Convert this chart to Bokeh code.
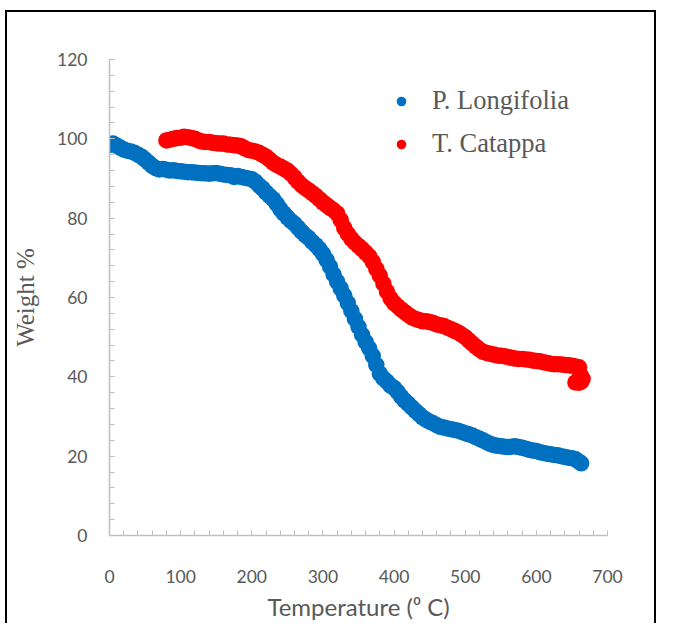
from bokeh.plotting import figure
from bokeh.models import Range1d, SingleIntervalTicker, Legend, LegendItem
from bokeh.embed import file_html
from bokeh.resources import INLINE

# ---- data ----
blue_t = [2, 5, 10, 15, 20, 25, 30, 35, 40, 45, 50, 55, 60, 65, 70, 75, 80, 85, 90, 95,
          100, 105, 110, 115, 120, 125, 130, 135, 140, 145, 150, 155, 160, 165, 170, 175, 180, 185, 190, 195,
          200, 205, 210, 215, 220, 225, 230, 235, 240, 245, 250, 255, 260, 265, 270, 275, 280, 285, 290, 295,
          300, 305, 310, 315, 320, 325, 330, 335, 340, 345, 350, 355, 360, 365, 370, 375, 380, 385, 390, 395,
          400, 405, 410, 415, 420, 425, 430, 435, 440, 445, 450, 455, 460, 465, 470, 475, 480, 485, 490, 495,
          500, 505, 510, 515, 520, 525, 530, 535, 540, 545, 550, 555, 560, 565, 570, 575, 580, 585, 590, 595,
          600, 605, 610, 615, 620, 625, 630, 635, 640, 645, 650, 655, 660, 663]
blue_w = [98.5, 98.8, 98.3, 97.8, 97.3, 97.0, 96.8, 96.5, 96.0, 95.5, 94.8, 94.0, 93.2, 92.6, 92.3, 92.4, 92.2, 92.0, 92.1, 91.9,
          91.8, 91.7, 91.6, 91.6, 91.5, 91.4, 91.3, 91.3, 91.2, 91.3, 91.4, 91.2, 91.0, 90.9, 90.8, 90.4, 90.6, 90.4, 90.2, 90.0,
          89.8, 89.2, 88.3, 87.5, 86.5, 85.6, 84.8, 83.6, 82.3, 81.2, 80.2, 79.3, 78.6, 77.6, 76.6, 75.7, 75.0, 74.0, 73.2, 72.2,
          71.0, 69.5, 67.8, 65.8, 64.0, 62.3, 60.5, 58.6, 56.6, 54.6, 52.6, 50.6, 48.8, 47.2, 45.3, 43.0, 40.8, 39.6, 38.8, 37.8,
          37.2, 36.2, 35.0, 34.0, 33.2, 32.3, 31.4, 30.6, 29.8, 29.2, 28.7, 28.3, 27.8, 27.4, 27.2, 27.0, 26.8, 26.6, 26.4, 26.1,
          25.8, 25.5, 25.2, 24.8, 24.4, 24.0, 23.5, 23.1, 22.8, 22.6, 22.5, 22.4, 22.3, 22.4, 22.5, 22.3, 22.1, 21.9, 21.6, 21.4,
          21.3, 21.0, 20.8, 20.6, 20.5, 20.3, 20.2, 20.0, 19.8, 19.6, 19.5, 19.2, 18.6, 18.2]

red_t = [80, 85, 90, 95, 100, 105, 110, 115, 120, 125, 130, 135, 140, 145, 150, 155, 160, 165, 170, 175,
         180, 185, 190, 195, 200, 205, 210, 215, 220, 225, 230, 235, 240, 245, 250, 255, 260, 265, 270, 275,
         280, 285, 290, 295, 300, 305, 310, 315, 320, 325, 330, 335, 340, 345, 350, 355, 360, 365, 370, 375,
         380, 385, 390, 395, 400, 405, 410, 415, 420, 425, 430, 435, 440, 445, 450, 455, 460, 465, 470, 475,
         480, 485, 490, 495, 500, 505, 510, 515, 520, 525, 530, 535, 540, 545, 550, 555, 560, 565, 570, 575,
         580, 585, 590, 595, 600, 605, 610, 615, 620, 625, 630, 635, 640, 645, 650, 655, 660, 662, 663, 660, 655, 665]
red_w = [99.6, 99.8, 100.0, 100.2, 100.3, 100.5, 100.4, 100.2, 100.0, 99.6, 99.3, 99.2, 99.2, 99.0, 98.9, 98.8, 98.8, 98.6, 98.5, 98.4,
         98.3, 98.1, 97.6, 97.2, 97.0, 96.8, 96.5, 96.0, 95.5, 94.8, 94.0, 93.4, 93.0, 92.5, 92.0, 91.2, 90.3, 89.2, 88.3, 87.6,
         87.0, 86.3, 85.6, 84.8, 84.0, 83.3, 82.6, 82.0, 81.2, 79.5, 77.5, 76.0, 74.8, 73.8, 73.0, 72.2, 71.3, 70.4, 69.0, 67.2,
         65.5, 63.5, 61.5, 59.8, 58.6, 57.8, 57.0, 56.3, 55.6, 55.0, 54.6, 54.3, 54.0, 54.0, 53.8, 53.6, 53.2, 53.0, 52.8, 52.4,
         52.0, 51.6, 51.2, 50.6, 50.0, 49.2, 48.4, 47.6, 46.9, 46.3, 46.0, 45.8, 45.6, 45.4, 45.3, 45.2, 45.0, 44.8, 44.6, 44.5,
         44.5, 44.4, 44.3, 44.1, 44.0, 43.9, 43.7, 43.5, 43.3, 43.2, 43.2, 43.1, 43.0, 42.9, 42.8, 42.6, 42.4, 40.5, 38.8, 38.5, 38.6, 39.5]

series_names = ["P. Longifolia", "T. Catappa"]
series_colors = ["#0070C0", "#FF0000"]

x_title = "Temperature (\u2070 C)"
y_title = "Weight %"

SANS = "Lato"
SERIF = "Liberation Serif"
GREY = "#595959"
AXIS = "#BFBFBF"

p = figure(width=657, height=623, output_backend="svg", toolbar_location=None,
           x_range=Range1d(0, 700), y_range=Range1d(0, 120),
           min_border_left=109, min_border_right=50, min_border_top=59, min_border_bottom=86)
# black frame around the chart (left, top, right sides), drawn behind a transparent canvas
p.styles = {"background": ("linear-gradient(#000,#000) 5px 10px / 2px 613px no-repeat, "
                           "linear-gradient(#000,#000) 5px 10px / 651px 2px no-repeat, "
                           "linear-gradient(#000,#000) 654px 10px / 2px 613px no-repeat, #ffffff")}
p.outline_line_color = None
p.xgrid.visible = False
p.ygrid.visible = False
p.background_fill_color = None
p.border_fill_color = None

r_blue = p.scatter(blue_t, blue_w, size=16.5, color=series_colors[0], line_color=None)
r_red = p.scatter(red_t, red_w, size=16.5, color=series_colors[1], line_color=None)

p.xaxis.ticker = SingleIntervalTicker(interval=100, num_minor_ticks=5)
p.yaxis.ticker = SingleIntervalTicker(interval=20, num_minor_ticks=5)
for ax in (p.xaxis[0], p.yaxis[0]):
    ax.axis_line_color = AXIS
    ax.axis_line_width = 1.5
    ax.major_tick_line_color = AXIS
    ax.minor_tick_line_color = AXIS
    ax.major_tick_in = 5
    ax.major_tick_out = 0
    ax.minor_tick_in = 5
    ax.minor_tick_out = 0
    ax.major_label_text_font = SANS
    ax.major_label_text_font_size = "17.5px"
    ax.major_label_text_color = GREY
    ax.axis_label_text_color = GREY
    ax.axis_label_text_font_style = "normal"

p.xaxis.axis_label = x_title
p.xaxis.axis_label_text_font = SANS
p.xaxis.axis_label_text_font_size = "24px"
p.xaxis.major_label_standoff = 34
p.xaxis.axis_label_standoff = 6

p.yaxis.axis_label = y_title
p.yaxis.axis_label_text_font = SERIF
p.yaxis.axis_label_text_font_size = "25px"
p.yaxis.major_label_standoff = 22
p.yaxis.axis_label_standoff = 15

legend = Legend(items=[LegendItem(label=series_names[0], renderers=[r_blue]),
                       LegendItem(label=series_names[1], renderers=[r_red])],
                location=(280, 376), padding=0, margin=0, spacing=12,
                glyph_width=24, glyph_height=24, label_height=24, label_standoff=19,
                label_text_font=SERIF, label_text_font_size="26.5px", label_text_color=GREY,
                background_fill_alpha=0, border_line_color=None)
p.add_layout(legend)

open("out.html", "w").write(file_html(p, INLINE))
